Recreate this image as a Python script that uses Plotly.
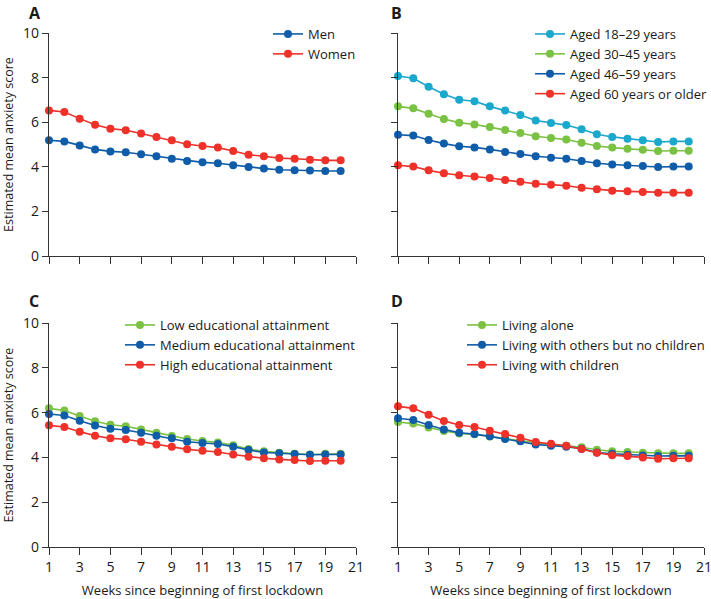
import plotly.graph_objects as go

weeks = list(range(1, 21))

# Panel A
men = [5.19, 5.14, 4.96, 4.78, 4.69, 4.65, 4.56, 4.47, 4.36, 4.26, 4.20, 4.16, 4.07, 3.99, 3.92, 3.87, 3.84, 3.83, 3.81, 3.81]
women = [6.53, 6.46, 6.16, 5.89, 5.71, 5.64, 5.49, 5.34, 5.19, 5.01, 4.93, 4.86, 4.71, 4.54, 4.47, 4.39, 4.36, 4.32, 4.29, 4.29]

# Panel B
age_18_29 = [8.07, 7.97, 7.59, 7.25, 7.01, 6.94, 6.71, 6.52, 6.32, 6.08, 5.96, 5.87, 5.68, 5.46, 5.34, 5.26, 5.19, 5.11, 5.14, 5.14]
age_30_45 = [6.71, 6.62, 6.38, 6.14, 5.98, 5.90, 5.78, 5.65, 5.52, 5.37, 5.29, 5.22, 5.08, 4.93, 4.86, 4.81, 4.77, 4.71, 4.72, 4.72]
age_46_59 = [5.44, 5.40, 5.20, 5.04, 4.92, 4.87, 4.78, 4.66, 4.57, 4.47, 4.41, 4.36, 4.26, 4.16, 4.10, 4.07, 4.04, 3.99, 4.01, 4.01]
age_60_plus = [4.07, 4.01, 3.84, 3.71, 3.62, 3.57, 3.50, 3.41, 3.33, 3.24, 3.20, 3.15, 3.06, 2.99, 2.93, 2.90, 2.87, 2.84, 2.84, 2.84]

# Panel C
edu_low = [6.19, 6.09, 5.85, 5.61, 5.46, 5.39, 5.25, 5.10, 4.96, 4.82, 4.73, 4.67, 4.54, 4.37, 4.27, 4.21, 4.16, 4.13, 4.16, 4.16]
edu_medium = [5.94, 5.87, 5.64, 5.42, 5.28, 5.22, 5.10, 4.97, 4.85, 4.70, 4.64, 4.60, 4.48, 4.33, 4.22, 4.18, 4.15, 4.12, 4.13, 4.13]
edu_high = [5.43, 5.36, 5.15, 4.97, 4.85, 4.81, 4.70, 4.58, 4.48, 4.36, 4.30, 4.24, 4.13, 4.03, 3.96, 3.91, 3.88, 3.84, 3.85, 3.85]

# Panel D
living_alone = [5.58, 5.51, 5.34, 5.18, 5.07, 5.03, 4.93, 4.84, 4.73, 4.63, 4.57, 4.52, 4.45, 4.34, 4.27, 4.24, 4.21, 4.18, 4.18, 4.18]
living_others = [5.75, 5.67, 5.45, 5.25, 5.10, 5.04, 4.94, 4.82, 4.72, 4.58, 4.52, 4.48, 4.39, 4.22, 4.16, 4.12, 4.09, 4.06, 4.07, 4.07]
living_children = [6.28, 6.19, 5.90, 5.63, 5.45, 5.36, 5.19, 5.04, 4.88, 4.69, 4.61, 4.52, 4.37, 4.21, 4.10, 4.06, 4.00, 3.94, 3.96, 3.96]

x_ticks = list(range(1, 22, 2))
y_ticks = [0, 2, 4, 6, 8, 10]
panel_labels = ["A", "B", "C", "D"]
x_title = "Weeks since beginning of first lockdown"
y_title = "Estimated mean anxiety score"

BLUE = "#0f5ca8"
RED = "#ee3129"
CYAN = "#1aa8cc"
GREEN = "#7bc143"
AXC = "#333333"
FONT = "Open Sans"

panels = [
    ("x", "y", "legend", [("Men", men, BLUE), ("Women", women, RED)]),
    ("x2", "y2", "legend2", [("Aged 18–29 years", age_18_29, CYAN), ("Aged 30–45 years", age_30_45, GREEN),
                             ("Aged 46–59 years", age_46_59, BLUE), ("Aged 60 years or older", age_60_plus, RED)]),
    ("x3", "y3", "legend3", [("Low educational attainment", edu_low, GREEN),
                             ("Medium educational attainment", edu_medium, BLUE),
                             ("High educational attainment", edu_high, RED)]),
    ("x4", "y4", "legend4", [("Living alone", living_alone, GREEN),
                             ("Living with others but no children", living_others, BLUE),
                             ("Living with children", living_children, RED)]),
]

fig = go.Figure()
for xa, ya, lg, series in panels:
    for name, vals, col in series:
        fig.add_trace(go.Scatter(
            x=weeks, y=vals, name=name, mode="lines+markers",
            line=dict(color=col, width=1.6),
            marker=dict(color=col, size=8),
            xaxis=xa, yaxis=ya, legend=lg, cliponaxis=False,
        ))

xdom_l = [49 / 711, 356 / 711]
xdom_r = [398 / 711, 704 / 711]
ydom_t = [1 - 256 / 599, 1 - 33 / 599]
ydom_b = [1 - 547 / 599, 1 - 323 / 599]

def xaxis(dom, anchor, labels):
    d = dict(domain=dom, anchor=anchor, range=[1, 21], tickvals=x_ticks, automargin=False,
             showticklabels=labels, ticks="outside", ticklen=7, tickwidth=1.3, tickcolor=AXC,
             showline=True, linecolor=AXC, linewidth=1.4, showgrid=False, zeroline=False,
             ticklabeloverflow="allow", tickfont=dict(size=14, color="#1a1a1a"))
    if labels:
        d["title"] = dict(text=x_title, font=dict(size=13, color="#1a1a1a"), standoff=14)
    return d

def yaxis(dom, anchor, labels):
    d = dict(domain=dom, anchor=anchor, range=[0, 10], tickvals=y_ticks, automargin=False,
             showticklabels=labels, ticks="outside", ticklen=6, tickwidth=1.3, tickcolor=AXC,
             showline=True, linecolor=AXC, linewidth=1.4, showgrid=False, zeroline=False,
             ticklabeloverflow="allow", tickfont=dict(size=14, color="#1a1a1a"))
    if labels:
        d["title"] = dict(text=y_title, font=dict(size=12.5, color="#1a1a1a"), standoff=10)
    return d

legend_common = dict(font=dict(size=13, color="#1a1a1a", family=FONT), bgcolor="rgba(0,0,0,0)",
                     xanchor="left", yanchor="top", tracegroupgap=0, itemwidth=30)

fig.update_layout(
    width=711, height=599,
    margin=dict(l=0, r=0, t=0, b=0, autoexpand=False),
    paper_bgcolor="white", plot_bgcolor="white",
    font=dict(family=FONT, color="#1a1a1a"),
    xaxis=xaxis(xdom_l, "y", False),
    yaxis=yaxis(ydom_t, "x", True),
    xaxis2=xaxis(xdom_r, "y2", False),
    yaxis2=yaxis(ydom_t, "x2", False),
    xaxis3=xaxis(xdom_l, "y3", True),
    yaxis3=yaxis(ydom_b, "x3", True),
    xaxis4=xaxis(xdom_r, "y4", True),
    yaxis4=yaxis(ydom_b, "x4", False),
    legend=dict(x=(310 - 42) / 711, y=1 - 19 / 599, **legend_common),
    legend2=dict(x=(572 - 42) / 711, y=1 - 19 / 599, **legend_common),
    legend3=dict(x=(162 - 42) / 711, y=1 - 310 / 599, **legend_common),
    legend4=dict(x=(504 - 42) / 711, y=1 - 310 / 599, **legend_common),
)

label_pos = [(28, 1), (390, 1), (28, 289), (390, 289)]
for lab, (px, py) in zip(panel_labels, label_pos):
    fig.add_annotation(text="<b>" + lab + "</b>", x=px / 711, y=1 - py / 599, xref="paper", yref="paper",
                       xanchor="left", yanchor="top", showarrow=False, borderpad=0,
                       font=dict(size=16, color="#1a1a1a", family=FONT))

fig.write_html("out.html", config={"displayModeBar": False},
               post_script="document.body.style.margin='0';")
